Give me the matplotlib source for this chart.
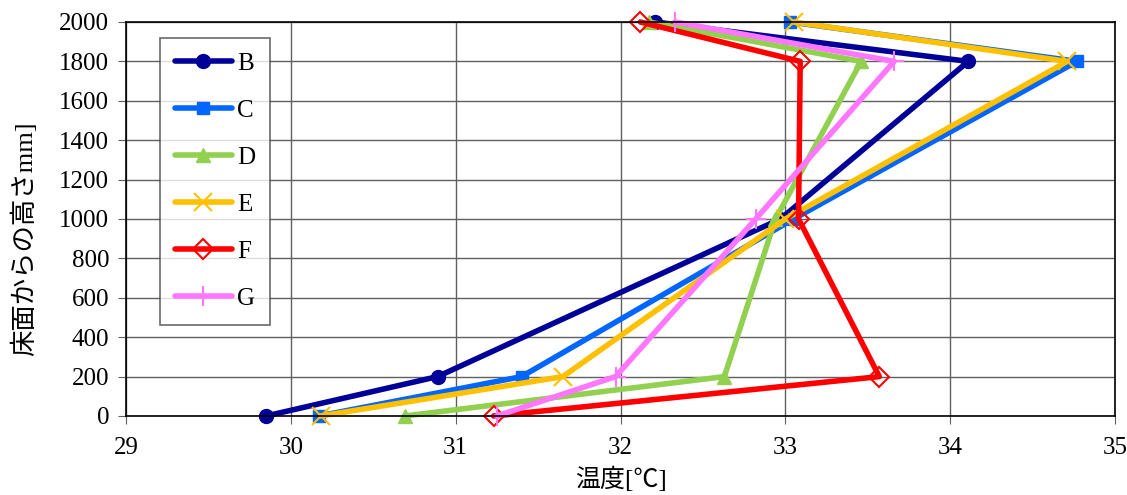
import matplotlib
matplotlib.use('Agg')
import matplotlib.pyplot as plt

plt.rcParams['font.family'] = ['Liberation Serif', 'Noto Sans CJK JP']

# heights above floor (mm)
heights = [0, 200, 1000, 1800, 2000]

temp_B = [29.85, 30.89, 32.97, 34.11, 32.21]
temp_C = [30.17, 31.40, 33.05, 34.77, 33.03]
temp_D = [30.69, 32.63, 32.94, 33.46, 32.17]
temp_E = [30.18, 31.65, 33.00, 34.71, 33.05]
temp_F = [31.23, 33.57, 33.08, 33.09, 32.12]
temp_G = [31.25, 31.97, 32.82, 33.66, 32.33]

series = [
    ('B', temp_B, '#000099', 'o', dict(markersize=10)),
    ('C', temp_C, '#0066FF', 's', dict(markersize=8)),
    ('D', temp_D, '#92D050', '^', dict(markersize=10)),
    ('E', temp_E, '#FFC000', 'x', dict(markersize=13, markeredgewidth=1.5)),
    ('F', temp_F, '#FF0000', 'D', dict(markersize=10, markerfacecolor='none', markeredgewidth=1.5)),
    ('G', temp_G, '#FF77FF', '+', dict(markersize=15, markeredgewidth=1.5)),
]

fig = plt.figure(figsize=(11.27, 4.95), dpi=100)
ax = fig.add_axes([0.1118, 0.1596, 0.8776, 0.796])

for name, temps, col, mk, kw in series:
    ax.plot(temps, heights, color=col, marker=mk, linewidth=4, label=name,
            solid_capstyle='round', clip_on=False, **kw)

ax.set_xlim(29, 35)
ax.set_ylim(0, 2000)
ax.set_xticks(range(29, 36))
ax.set_yticks(range(0, 2001, 200))
ax.grid(True, color='#606060', linewidth=1)
ax.set_axisbelow(True)
for s in ax.spines.values():
    s.set_color('black')
    s.set_linewidth(1.2)
ax.tick_params(axis='both', labelsize=18, direction='out', length=6, color='#606060', pad=6)
ax.tick_params(axis='x', pad=9)

ax.set_xlabel('温度[℃]', fontsize=18, labelpad=6)
ax.set_ylabel('床面からの高さmm]', fontsize=19)
ax.yaxis.set_label_coords(-0.09, 0.45)

leg = ax.legend(loc='upper left', bbox_to_anchor=(0.034, 0.96), borderaxespad=0,
                fontsize=18, frameon=True, fancybox=False, edgecolor='#444444',
                handlelength=2.3, labelspacing=0.98, borderpad=0.6, handletextpad=0.2)
leg.get_frame().set_linewidth(1.2)

fig.savefig('out.png', dpi=100)
